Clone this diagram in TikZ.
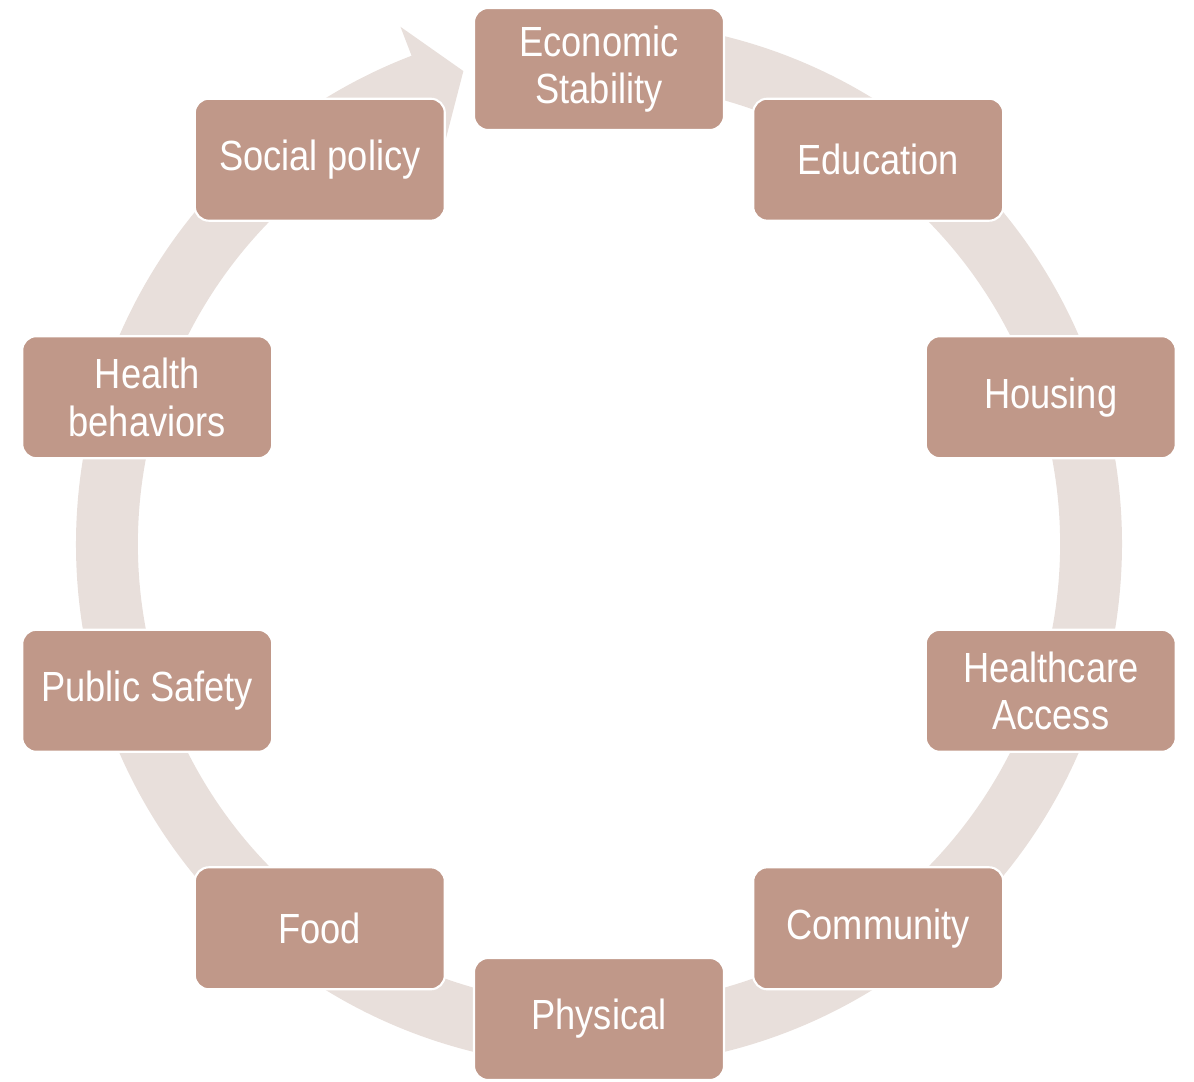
\documentclass[tikz,border=0pt]{standalone}
\usepackage{fontspec}
\setmainfont{Liberation Sans}[FakeStretch=0.86]
\usetikzlibrary{positioning}
\definecolor{cbox}{HTML}{C09889}
\definecolor{cring}{HTML}{E8DFDB}
\tikzset{
  every picture/.style={font=\fontsize{24}{27}\selectfont},
  box/.style={draw=white, fill=cbox, line width=1.2pt, rounded corners=8pt, text=white, align=center,
    minimum width=5cm, minimum height=2.44cm, inner sep=3pt},
  ring/.style={fill=cring},
}

\begin{document}
\begin{tikzpicture}
  \useasboundingbox (-11.98,-10.74) rectangle (11.9,10.88);
  % ---------- cycle arrow ----------
  \fill[ring] (88:10.46) arc[start angle=88, end angle=-249, radius=10.46]
    -- (-249:11.08) -- (-254:9.84) -- (-249:8.6) -- (-249:9.22)
    arc[start angle=-249, end angle=88, radius=9.22] -- cycle;
  % ---------- boxes ----------
  \foreach \ang/\name/\txt in {90/econ/{Economic\\Stability}, 54/edu/Education, 18/housing/Housing,
      -18/care/{Healthcare\\Access}, -54/community/Community, -90/physical/Physical,
      -126/food/Food, -162/safety/Public Safety, 162/behav/{Health\\behaviors}, 126/social/Social policy}
    \node[box] (\name) at (\ang:9.5) {\txt};
\end{tikzpicture}
\end{document}
